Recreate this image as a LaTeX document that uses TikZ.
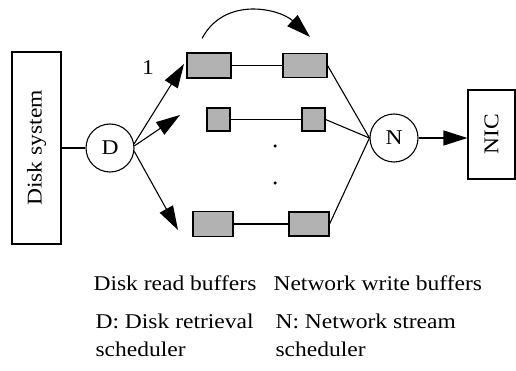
\documentclass[tikz,border=0pt]{standalone}
\usepackage{fontspec}
\setmainfont[FakeStretch=1.12]{Liberation Serif}
\usetikzlibrary{arrows.meta}
\tikzset{
 unit/.style={draw, rotate=90, inner sep=0pt},
 sched/.style={draw, circle, minimum size=48pt, inner sep=0pt},
 buf/.style={draw, fill=black!30, inner sep=0pt},
 dot/.style={circle, fill, inner sep=0pt, minimum size=3.5pt},
 big/.style={-{Triangle[length=24pt,width=15pt]}},
 caption/.style={anchor=north west, inner sep=0pt, align=left}
}
\begin{document}
\begin{tikzpicture}[x=1pt, y=-1pt, font=\fontsize{21}{28}\selectfont, line width=1.1pt]
 \useasboundingbox (0,0) rectangle (516,371);
 \node [unit, minimum width=192pt, minimum height=49pt] (disk) at (36.5,148) {Disk system};
 \node [sched] (D) at (110,148) {D};
 \draw (disk.south) -- (D.west);
 \node [buf, minimum width=44pt, minimum height=25pt] (r1a) at (209,65.5) {};
 \node [buf, minimum width=44pt, minimum height=24pt] (r1b) at (305,65.5) {};
 \node [buf, minimum width=23pt, minimum height=23pt] (r2a) at (218.5,119.5) {};
 \node [buf, minimum width=23pt, minimum height=23pt] (r2b) at (313.5,119.5) {};
 \node [buf, minimum width=40pt, minimum height=25pt] (r3a) at (213,224) {};
 \node [buf, minimum width=40pt, minimum height=24pt] (r3b) at (309,224) {};
 \node [dot] (dot1) at (275,146) {};
 \node [dot] (dot2) at (275,183) {};
 \draw (r1a.east) -- (r1b.west);
 \draw (r2a.east) -- (r2b.west);
 \draw (r3a.east) -- (r3b.west);
 \coordinate (t1) at (184,64);
 \coordinate (t2) at (180,115);
 \coordinate (t3) at (178,230);
 \draw [big] (D.10) -- (t1);
 \draw [big] (D.5) -- (t2);
 \draw [big] (D.-8) -- (t3);
 \node at (148,68) {1};
 \draw [big] ([xshift=-7pt,yshift=14pt]r1a.north) .. controls +(23,-43) and +(-30,-28) .. ([xshift=5pt,yshift=16pt]r1b.north);
 \node [sched] (N) at (394,138) {N};
 \draw (r1b.east) -- (N.west);
 \draw (r2b.east) -- (N.west);
 \draw (r3b.east) -- (N.west);
 \node [unit, minimum width=89pt, minimum height=47pt] (NIC) at (491.5,134.5) {NIC};
 \draw [big] (N.east) -- (N.east -| NIC.north);
 \node [caption] (rlab) at (93,275) {Disk read buffers};
 \node [caption] (wlab) at (273,275) {Network write buffers};
 \node [caption] (dlab) at (95,313) {D: Disk retrieval\\scheduler};
 \node [caption] (nlab) at (275,313) {N: Network stream\\scheduler};
\end{tikzpicture}
\end{document}
